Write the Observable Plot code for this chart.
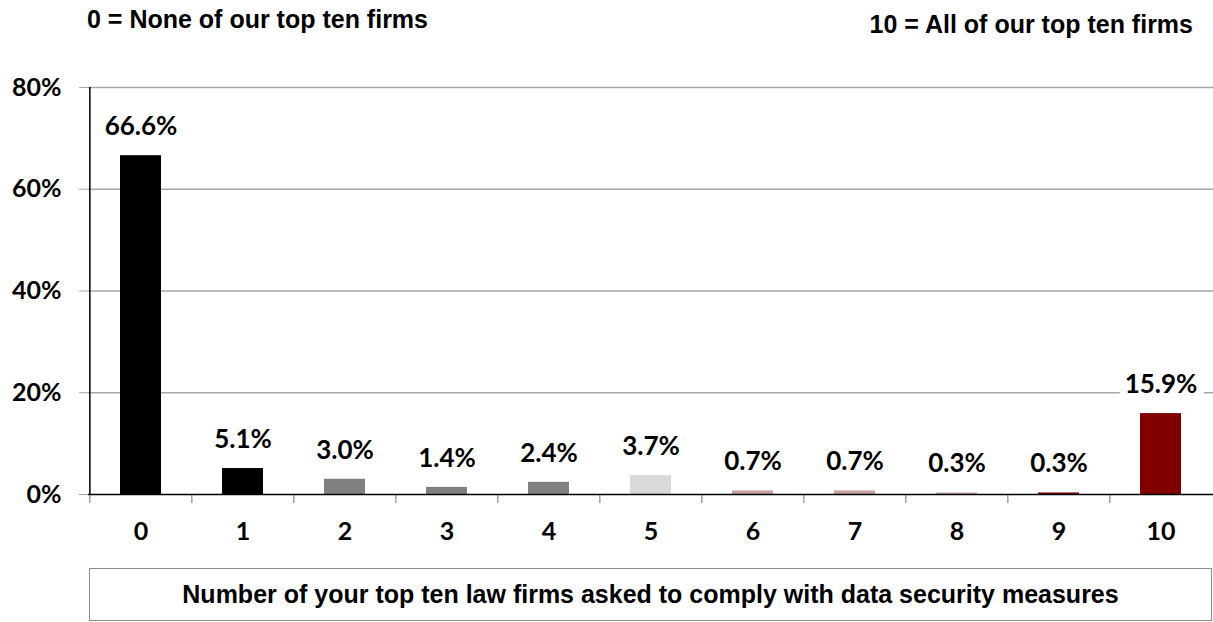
<!DOCTYPE html>
<html>
<head>
<meta charset="utf-8">
<script src="https://cdn.jsdelivr.net/npm/d3@7"></script>
<script src="https://cdn.jsdelivr.net/npm/@observablehq/plot@0.6"></script>
<style>
  html, body { margin: 0; padding: 0; background: #fff; }
  #wrap { position: relative; width: 1213px; height: 622px; font-family: "Liberation Sans", Arial, sans-serif; color: #000; }
  #header { position: relative; height: 50px; }
  .ht { position: absolute; font-size: 25px; line-height: 25px; font-weight: bold; white-space: nowrap; }
  #t1 { left: 87px; top: 7px; }
  #t2 { right: 20px; top: 12px; }
  #chart svg { display: block; }
  #xtitle { margin-top: 8px; margin-left: 89px; width: 1123px; height: 53px; box-sizing: border-box;
            border: 1.5px solid #8c8c8c; display: flex; align-items: center; justify-content: center;
            font-size: 25px; font-weight: bold; white-space: nowrap; }
</style>
</head>
<body>
<div id="wrap">
  <div id="header">
    <div class="ht" id="t1"></div>
    <div class="ht" id="t2"></div>
  </div>
  <div id="chart"></div>
  <div id="xtitle"></div>
</div>
<script>
// ---- data ----
const categories = ["0", "1", "2", "3", "4", "5", "6", "7", "8", "9", "10"];
const values = [66.6, 5.1, 3.0, 1.4, 2.4, 3.7, 0.7, 0.7, 0.3, 0.3, 15.9];
const barColors = ["#000000", "#000000", "#808080", "#808080", "#808080", "#d9d9d9",
                   "#c9a3a3", "#c9a3a3", "#c9a3a3", "#800000", "#800000"];
const yTicks = [0, 20, 40, 60, 80];
const leftNote = "0 = None of our top ten firms";
const rightNote = "10 = All of our top ten firms";
const xTitle = "Number of your top ten law firms asked to comply with data security measures";

document.getElementById("t1").textContent = leftNote;
document.getElementById("t2").textContent = rightNote;
document.getElementById("xtitle").textContent = xTitle;

const data = categories.map((c, i) => ({cat: c, value: values[i], color: barColors[i]}));

const W = 1213, ML = 88, MR = 0;
const step = (W - ML - MR) / categories.length;

const chart = Plot.plot({
  width: W,
  height: 510,
  marginTop: 37,
  marginBottom: 66,
  marginLeft: ML,
  marginRight: MR,
  style: {fontFamily: "Lato, 'Open Sans', sans-serif", color: "#000", background: "#fff"},
  x: {domain: categories, paddingInner: 0.6, paddingOuter: 0.3, axis: null},
  y: {domain: [0, 80], axis: null},
  color: {type: "identity"},
  marks: [
    Plot.gridY(yTicks.filter(d => d > 0), {stroke: "#a6a6a6", strokeOpacity: 1, strokeWidth: 1.5}),
    Plot.axisY({ticks: yTicks, tickSize: 9, tickPadding: 18, tickFormat: d => d + "%",
                stroke: "#a6a6a6", fill: "#000", fontSize: 25, fontWeight: 700, label: null}),
    Plot.barY(data, {x: "cat", y: "value", fill: "color"}),
    Plot.ruleX([categories[0]], {dx: -step / 2, stroke: "#000", strokeWidth: 1.5}),
    Plot.ruleX(categories, {x: d => d, y1: 0, y2: 0, insetBottom: -9, dx: -step / 2, stroke: "#888", strokeWidth: 1.2}),
    Plot.ruleY([0], {stroke: "#000", strokeWidth: 1.5}),
    Plot.axisX({tickSize: 0, tickPadding: 28, fontSize: 25, fontWeight: 700, label: null, fill: "#000"}),
    Plot.text(data, {x: "cat", y: "value", text: d => d.value.toFixed(1) + "%", dy: -29,
                     lineAnchor: "middle", fontSize: 26, fontWeight: 700, fill: "#000",
                     stroke: "#fff", strokeWidth: 16})
  ]
});
document.getElementById("chart").appendChild(chart);
</script>
</body>
</html>
